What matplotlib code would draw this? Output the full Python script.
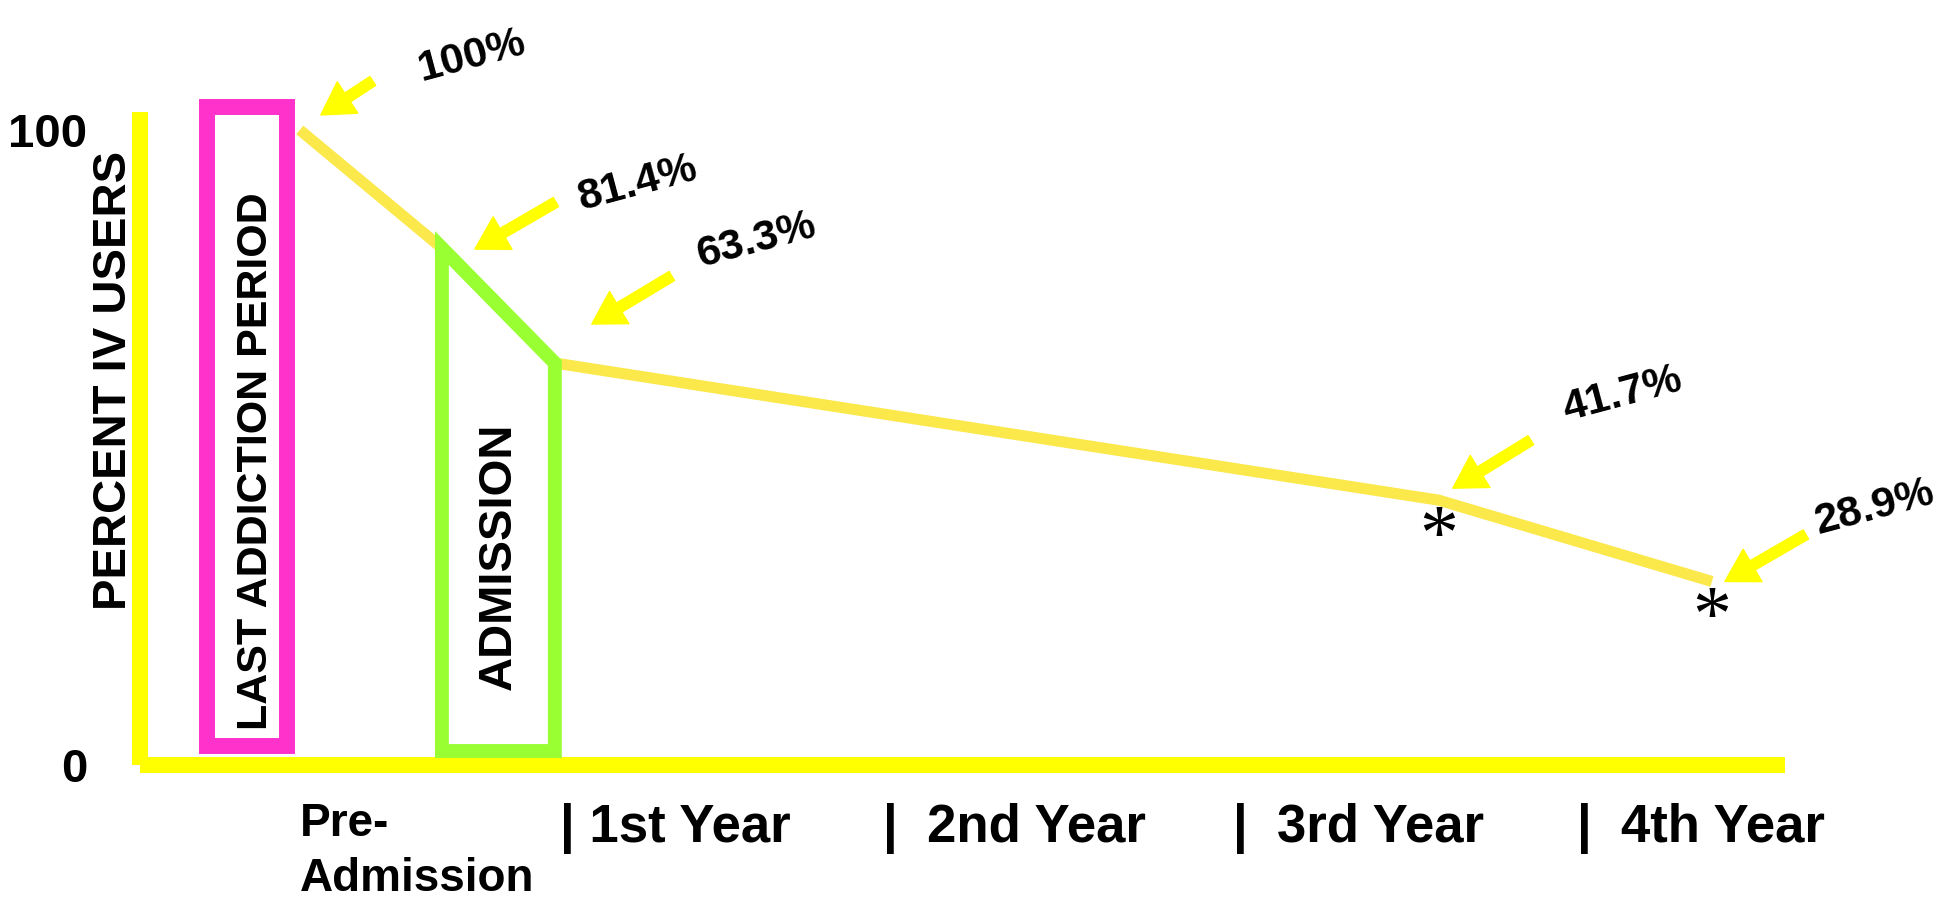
import matplotlib.pyplot as plt
from matplotlib.patches import Rectangle, Polygon
from matplotlib.transforms import offset_copy

plt.rcParams['font.family'] = ['Liberation Sans', 'DejaVu Sans']
plt.rcParams['font.weight'] = 'bold'

# IV drug use over time (percent of users)
time_pos = [-0.765, -0.347, -0.015, 2.585, 3.388]
pct_users = [100, 81.4, 63.3, 41.7, 28.9]
pct_labels = ['100%', '81.4%', '63.3%', '41.7%', '28.9%']
starred = [False, False, False, True, True]

# x-axis period labels
period_ticks = [-0.765, 0, 0.95, 1.98, 2.99]
period_labels = ['Pre-\nAdmission', '| 1st Year', '|  2nd Year', '|  3rd Year', '|  4th Year']

# shaded phases: last addiction period box, admission index (points 1..2)
addiction_x = (-1.038, -0.803)
addiction_y = (3.0, 103.6)
adm_first, adm_last = 1, 2
adm_base = 2.2

AXIS_YELLOW = '#FFFF00'
TREND = '#FBE84A'
PINK = '#FF33CC'
GREEN = '#99FF33'

W, H = 1955, 898
fig = plt.figure(figsize=(W / 100, H / 100), dpi=100)
ax = fig.add_axes([140 / W, (H - 765) / H, (1785 - 140) / W, (765 - 112) / H])
ax.set_xlim(-1.235, 3.603)
ax.set_ylim(0, 102.83)

for side in ['top', 'right']:
    ax.spines[side].set_visible(False)
for side in ['left', 'bottom']:
    ax.spines[side].set_color(AXIS_YELLOW)
    ax.spines[side].set_linewidth(11.5)
    ax.spines[side].set_capstyle('butt')

ax.set_yticks([0, 100])
ax.set_yticklabels(['0', '100'], fontsize=34)
ax.tick_params(axis='y', length=0, pad=38)
ax.set_xticks(period_ticks)
ax.set_xticklabels(period_labels, fontsize=38, ha='left')
ax.tick_params(axis='x', length=0, pad=27)
pre_label = ax.get_xticklabels()[0]
pre_label.set_fontsize(33)
pre_label.set_linespacing(1.3)

fig.text(114 / W, 1 - 380 / H, 'PERCENT IV USERS', rotation=90,
         ha='center', va='center', fontsize=34)

# last addiction period box
ax.add_patch(Rectangle((addiction_x[0], addiction_y[0]),
                       addiction_x[1] - addiction_x[0],
                       addiction_y[1] - addiction_y[0],
                       fill=False, edgecolor=PINK, linewidth=11.5,
                       joinstyle='miter', clip_on=False, zorder=3))
ax.text(-0.894, 47.9, 'LAST ADDICTION PERIOD', rotation=90,
        ha='center', va='center', fontsize=31, zorder=6)

# trend line
ax.plot(time_pos, pct_users, color=TREND, linewidth=8,
        solid_capstyle='butt', solid_joinstyle='miter', zorder=4, clip_on=False)

# admission box follows the drop between its two points
xa, xb = time_pos[adm_first], time_pos[adm_last]
ya, yb = pct_users[adm_first], pct_users[adm_last]
ax.add_patch(Polygon([(xa, adm_base), (xa, ya), (xb, yb), (xb, adm_base)],
                     closed=True, fill=False, edgecolor=GREEN, linewidth=10,
                     joinstyle='miter', zorder=5))
ax.text((xa + xb) / 2, 32.8, 'ADMISSION', rotation=90,
        ha='center', va='center', fontsize=34, zorder=6)

# arrows and percent labels (pixel offsets from each point)
tip_offsets = [(21, 15), (33, -1), (37, 39), (14, 12), (13, 0)]
arrow_vectors = [(52, 34), (81, 47), (80, 48), (78, 48), (81, 47)]
label_offsets = [(172, 74), (196, 65), (202, 122), (184, 106), (163, 74)]

for x, y, lab, tip, vec, loff, star in zip(time_pos, pct_users, pct_labels,
                                           tip_offsets, arrow_vectors,
                                           label_offsets, starred):
    tip_trans = offset_copy(ax.transData, fig=fig, x=tip[0], y=tip[1], units='dots')
    ax.annotate('', xy=(x, y), xycoords=tip_trans,
                xytext=vec, textcoords='offset pixels',
                arrowprops=dict(arrowstyle='simple,head_length=1.15,head_width=1.35,tail_width=0.38',
                                color=AXIS_YELLOW, shrinkA=0, shrinkB=0,
                                mutation_scale=20),
                annotation_clip=False, zorder=7)
    ax.annotate(lab, xy=(x, y), xytext=loff, textcoords='offset pixels',
                ha='center', va='center', rotation=15, fontsize=31,
                annotation_clip=False, zorder=7)
    if star:
        ax.annotate('*', xy=(x, y), xytext=(0, -58), textcoords='offset pixels',
                    ha='center', va='baseline', fontsize=56,
                    family=['Liberation Serif', 'DejaVu Serif'], weight='normal',
                    annotation_clip=False, zorder=8)

fig.savefig('out.png', dpi=100, facecolor='white')
